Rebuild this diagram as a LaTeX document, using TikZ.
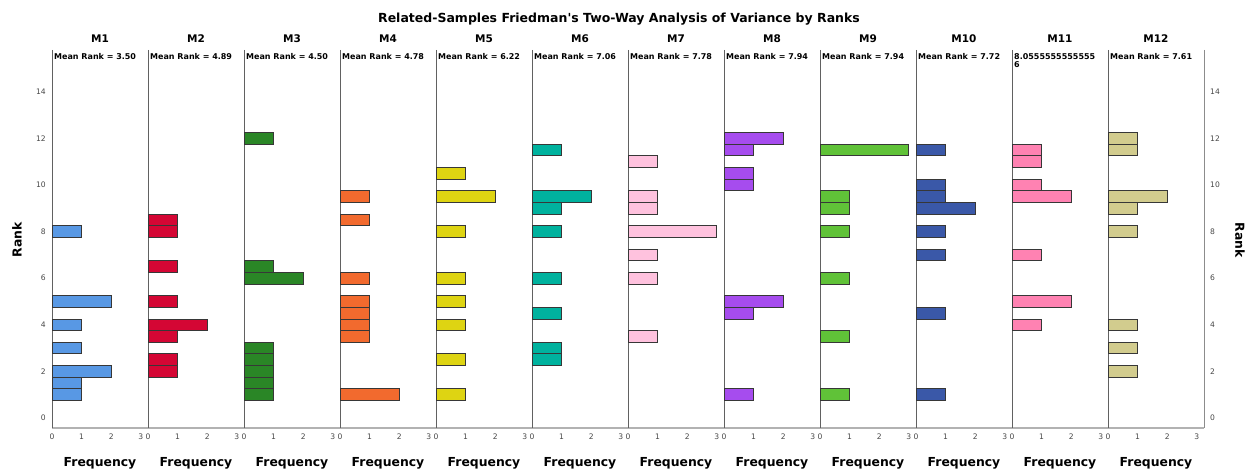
\documentclass[tikz,border=0pt]{standalone}
\usepackage{fontspec}
\setmainfont{DejaVu Sans}[Ligatures=TeXOff]

% one fill per group
\definecolor{mone}{RGB}{88,152,228}
\definecolor{mtwo}{RGB}{212,6,52}
\definecolor{mthree}{RGB}{42,134,38}
\definecolor{mfour}{RGB}{242,106,46}
\definecolor{mfive}{RGB}{222,212,18}
\definecolor{msix}{RGB}{0,178,158}
\definecolor{mseven}{RGB}{255,194,222}
\definecolor{meight}{RGB}{166,76,238}
\definecolor{mnine}{RGB}{96,194,56}
\definecolor{mten}{RGB}{58,88,168}
\definecolor{meleven}{RGB}{255,130,178}
\definecolor{mtwelve}{RGB}{210,204,142}
\definecolor{barline}{RGB}{55,55,55}

\tikzset{
  panelline/.style={draw=black!62, line width=1pt},
  freqaxis/.style={draw=black!30, line width=1.6pt},
  rankbar/.style={draw=barline, line width=0.9pt},
  ticklabel/.style={font=\fontsize{7.6}{8}\selectfont, text=black!72, inner sep=1pt},
  paneltitle/.style={font=\bfseries\fontsize{10.5}{12}\selectfont},
  meanlabel/.style={font=\bfseries\fontsize{8}{8}\selectfont, anchor=north west, inner sep=0pt, align=left},
  axistitle/.style={font=\bfseries\fontsize{12.4}{14}\selectfont},
}

% bars of one panel: panel number, fill, list of rank/frequency
\newcommand{\rankbars}[3]{%
  \foreach \rk/\fq in {#3}{
    \draw[rankbar, fill=#2] ({52+96*(#1-1)},{418-23.3*(\rk-0.25)}) rectangle ({52+96*(#1-1)+29.6*\fq},{418-23.3*(\rk+0.25)});
  }%
}

\begin{document}
\begin{tikzpicture}[x=1pt, y=-1pt]
\useasboundingbox (0,0) rectangle (1260,473);

\node[font=\bfseries\fontsize{12.5}{14}\selectfont] (title) at (619,19) {Related-Samples Friedman's Two-Way Analysis of Variance by Ranks};

% rank axis, both sides
\draw[freqaxis] (52,428) -- (1204,428);
\draw[draw=black!45, line width=1pt] (1204,50) -- (1204,428);
\foreach \tk in {0,2,...,14}{
  \node[ticklabel, anchor=east] (yl\tk) at (47,{418-23.3*\tk}) {\tk};
  \node[ticklabel, anchor=west] (yr\tk) at (1209,{418-23.3*\tk}) {\tk};
}
\node[axistitle, rotate=90] (ranklft) at (17,240) {Rank};
\node[axistitle, rotate=-90] (rankrgt) at (1240,240) {Rank};

% panel frames and titles
\foreach \idx in {1,...,12}{
  \draw[panelline] ({52+96*(\idx-1)},50) -- ({52+96*(\idx-1)},428);
  \node[paneltitle] (t\idx) at ({100+96*(\idx-1)},39) {M\idx};
  \node[axistitle] (f\idx) at ({100+96*(\idx-1)},463) {Frequency};
}

% frequency ticks
\foreach \idx in {1,...,12}
  \foreach \tk in {0,1,2,3}
    \node[ticklabel] (x\idx-\tk) at ({52+96*(\idx-1)+29.6*\tk},437) {\tk};

% bars
\rankbars{1}{mone}{1/1,1.5/1,2/2,3/1,4/1,5/2,8/1}
\rankbars{2}{mtwo}{2/1,2.5/1,3.5/1,4/2,5/1,6.5/1,8/1,8.5/1}
\rankbars{3}{mthree}{1/1,1.5/1,2/1,2.5/1,3/1,6/2,6.5/1,12/1}
\rankbars{4}{mfour}{1/2,3.5/1,4/1,4.5/1,5/1,6/1,8.5/1,9.5/1}
\rankbars{5}{mfive}{1/1,2.5/1,4/1,5/1,6/1,8/1,9.5/2,10.5/1}
\rankbars{6}{msix}{2.5/1,3/1,4.5/1,6/1,8/1,9/1,9.5/2,11.5/1}
\rankbars{7}{mseven}{3.5/1,6/1,7/1,8/3,9/1,9.5/1,11/1}
\rankbars{8}{meight}{1/1,4.5/1,5/2,10/1,10.5/1,11.5/1,12/2}
\rankbars{9}{mnine}{1/1,3.5/1,6/1,8/1,9/1,9.5/1,11.5/3}
\rankbars{10}{mten}{1/1,4.5/1,7/1,8/1,9/2,9.5/1,10/1,11.5/1}
\rankbars{11}{meleven}{4/1,5/2,7/1,9.5/2,10/1,11/1,11.5/1}
\rankbars{12}{mtwelve}{2/1,3/1,4/1,8/1,9/1,9.5/2,11.5/1,12/1}

% mean rank of each group
\foreach \idx/\mval in {1/3.50,2/4.89,3/4.50,4/4.78,5/6.22,6/7.06,7/7.78,8/7.94,9/7.94,10/7.72,12/7.61}
  \node[meanlabel] (m\idx) at ({54+96*(\idx-1)},53) {Mean Rank = \mval};
\node[meanlabel] (m11) at (1014,53) {8.0555555555555\\6};
\end{tikzpicture}
\end{document}
